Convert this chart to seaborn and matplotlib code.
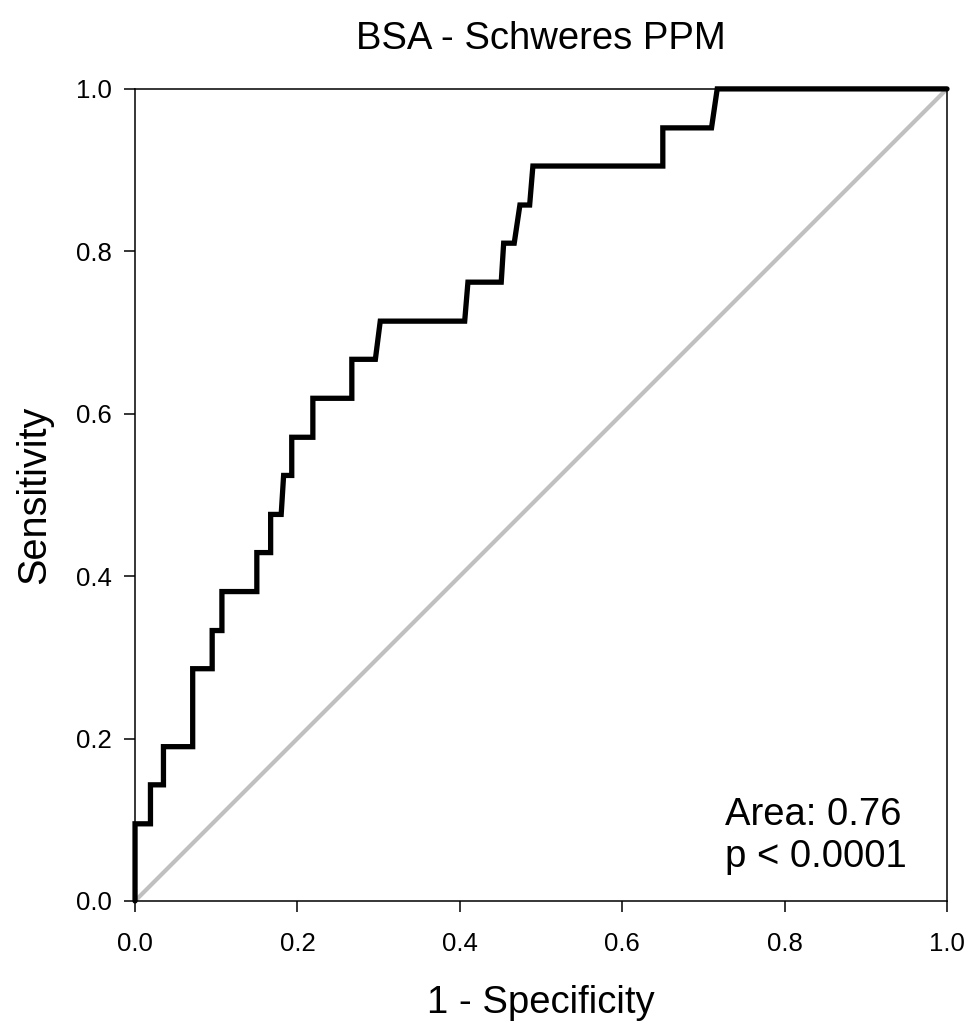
import matplotlib
matplotlib.use("Agg")
import matplotlib.pyplot as plt
import seaborn as sns
import pandas as pd

# ROC curve vertices (1 - specificity, sensitivity)
fpr = [0.000, 0.000, 0.019, 0.019, 0.035, 0.035, 0.071, 0.071, 0.095, 0.095,
       0.107, 0.107, 0.150, 0.150, 0.167, 0.167, 0.180, 0.183, 0.193, 0.193,
       0.219, 0.219, 0.267, 0.267, 0.296, 0.302, 0.406, 0.410, 0.451, 0.454,
       0.467, 0.474, 0.486, 0.490, 0.650, 0.650, 0.710, 0.717, 1.000]
tpr = [0.000, 0.095, 0.095, 0.143, 0.143, 0.190, 0.190, 0.286, 0.286, 0.333,
       0.333, 0.381, 0.381, 0.429, 0.429, 0.476, 0.476, 0.524, 0.524, 0.571,
       0.571, 0.619, 0.619, 0.667, 0.667, 0.714, 0.714, 0.762, 0.762, 0.810,
       0.810, 0.857, 0.857, 0.905, 0.905, 0.952, 0.952, 1.000, 1.000]
ref_x = [0.0, 1.0]
ref_y = [0.0, 1.0]

title = "BSA - Schweres PPM"
area_text = "Area: 0.76"
p_text = "p < 0.0001"
ticks = [0.0, 0.2, 0.4, 0.6, 0.8, 1.0]


def main():
    sns.set_style("ticks")
    plt.rcParams["font.family"] = ["Liberation Sans", "DejaVu Sans"]
    plt.rcParams["text.color"] = "black"
    plt.rcParams["axes.labelcolor"] = "black"

    roc = pd.DataFrame({"fpr": fpr, "tpr": tpr})
    diag = pd.DataFrame({"x": ref_x, "y": ref_y})

    fig = plt.figure(figsize=(9.68, 10.23), dpi=100)
    ax = fig.add_axes([0.1395, 0.1193, 0.8388, 0.7938])

    sns.lineplot(data=diag, x="x", y="y", color="#c0c0c0", linewidth=3.0,
                 sort=False, estimator=None, ax=ax, clip_on=False, zorder=2)
    sns.lineplot(data=roc, x="fpr", y="tpr", color="black", linewidth=3.8,
                 sort=False, estimator=None, ax=ax, clip_on=False, zorder=3,
                 solid_joinstyle="miter")

    ax.set_xlim(0, 1)
    ax.set_ylim(0, 1)
    ax.set_xticks(ticks)
    ax.set_yticks(ticks)
    ax.set_xticklabels([f"{t:.1f}" for t in ticks])
    ax.set_yticklabels([f"{t:.1f}" for t in ticks])
    ax.tick_params(axis="both", direction="out", length=8, width=1.1,
                   labelsize=18.5, colors="black")
    ax.tick_params(axis="x", pad=14)
    ax.tick_params(axis="y", pad=9)
    for s in ax.spines.values():
        s.set_linewidth(1.1)
        s.set_color("black")
        s.set_visible(True)

    ax.set_title(title, fontsize=27.5, pad=29, color="black")
    ax.set_xlabel("1 - Specificity", fontsize=27.5, labelpad=21)
    ax.set_ylabel("Sensitivity", fontsize=28.5, labelpad=16)

    ax.text(0.7266, 0.0936, area_text, fontsize=27.5, ha="left", va="baseline")
    ax.text(0.7266, 0.0419, p_text, fontsize=27.5, ha="left", va="baseline")

    fig.savefig("out.png", dpi=100)
    plt.close(fig)


if __name__ == "__main__":
    main()
